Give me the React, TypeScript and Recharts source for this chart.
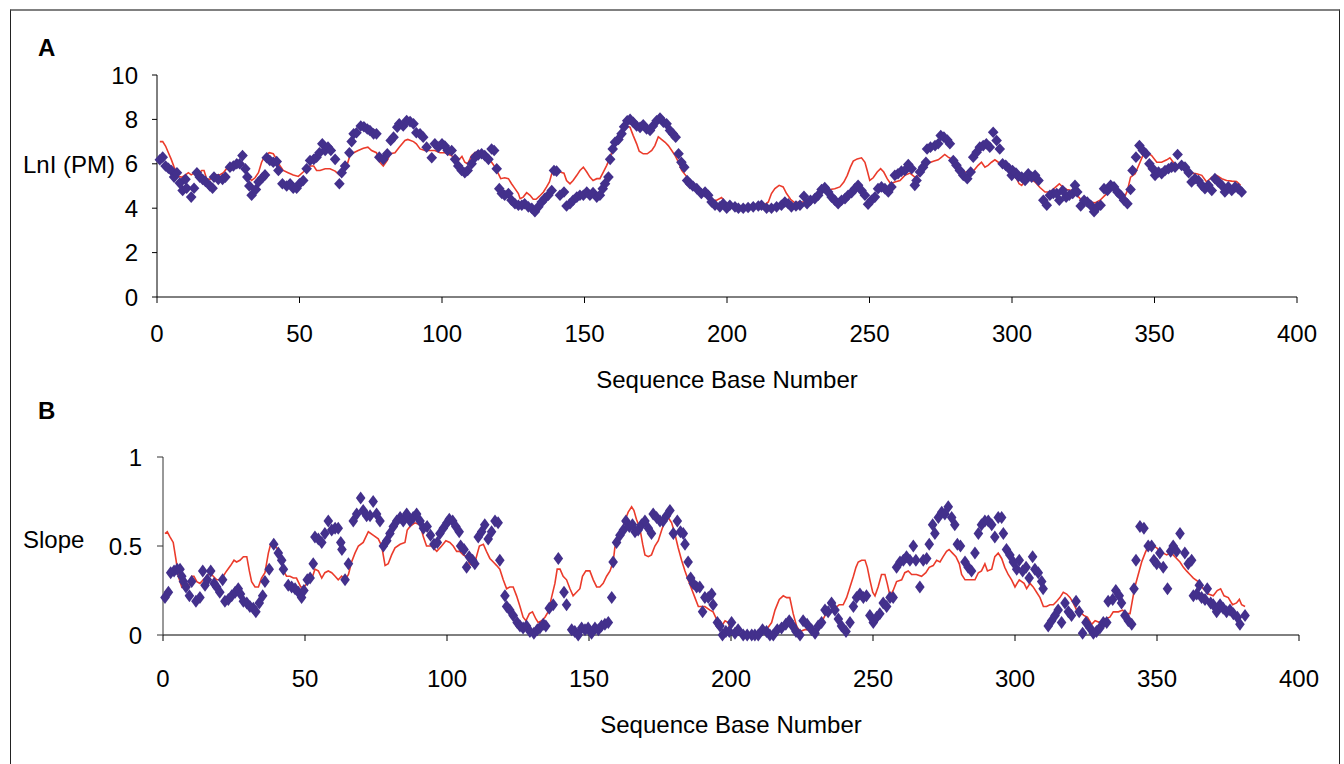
import { ComposedChart, Label, Line, Scatter, XAxis, YAxis } from "recharts";

const X_TICKS = [0, 50, 100, 150, 200, 250, 300, 350, 400];
const LNI_TICKS = [0, 2, 4, 6, 8, 10];
const SLOPE_TICKS = [0, 0.5, 1];

// [base, LnI] measured probes
const lnIPoints: [number, number][] = [
  [1, 6.18], [2, 6.3], [3, 5.9], [4, 5.8], [5, 5.7], [6, 5.4], [7, 5.6], [8, 5.13], [9, 4.8], [10, 5.3],
  [10.4, 4.9], [12, 4.5], [13, 4.9], [14, 5.6], [15, 5.4], [16, 5.3], [17, 5.2], [18.6, 5.0], [19.5, 4.9], [20, 5.4],
  [21.5, 5.3], [23, 5.3], [24, 5.4], [25.6, 5.85], [26.8, 5.9], [28, 6.0], [29, 6.0], [30, 6.37], [31, 5.78], [31.7, 5.4],
  [32.4, 5.0], [33.2, 4.58], [34.7, 4.84], [35.6, 5.18], [37, 5.37], [37.9, 5.5], [38.5, 6.27], [39.6, 6.15], [40.8, 6.07], [42, 6.1],
  [42.6, 5.7], [44, 5.1], [45.5, 5.0], [46.7, 5.1], [47.8, 4.9], [49, 4.9], [50, 5.1], [51.3, 5.25], [52.5, 5.78], [53.7, 6.15],
  [55, 6.2], [56, 6.3], [57, 6.5], [58, 6.9], [59, 6.6], [60, 6.75], [61, 6.6], [62.5, 6.2], [64, 5.1], [64.8, 5.6],
  [66, 5.9], [67.5, 6.5], [68.3, 7.0], [69, 7.35], [70, 7.4], [71.5, 7.7], [72.6, 7.67], [73.8, 7.57], [74.7, 7.5], [76, 7.35],
  [77, 7.35], [78, 6.3], [79.4, 6.2], [80.8, 6.45], [82, 7.05], [83, 7.2], [84.3, 7.65], [85, 7.8], [86.4, 7.7], [87.6, 7.95],
  [88.8, 7.9], [90, 7.8], [91, 7.4], [92.3, 7.35], [93.4, 7.2], [94.6, 6.75], [96.4, 6.27], [97.5, 6.9], [98.7, 6.75], [100, 6.9],
  [101, 6.8], [102, 6.6], [103.4, 6.6], [104.6, 6.2], [105.7, 5.9], [106.9, 5.7], [108, 5.6], [109, 5.7], [110.4, 6.0], [111.6, 6.3],
  [112.7, 6.4], [113.9, 6.45], [115, 6.37], [116.3, 6.2], [117.4, 6.67], [118.3, 6.6], [119.2, 5.78], [120.1, 4.88], [121, 4.66], [122, 4.58],
  [123.3, 4.66], [124.4, 4.36], [125.6, 4.2], [126.8, 4.13], [128, 4.13], [129, 4.2], [130.3, 4.06], [131.5, 4.0], [132.6, 3.84], [133.8, 4.06],
  [135, 4.28], [136, 4.43], [137.3, 4.58], [138.5, 4.8], [139.3, 5.7], [140.2, 5.67], [141.4, 4.58], [142.8, 4.73], [143.7, 4.1], [144.9, 4.2],
  [146, 4.36], [147.3, 4.5], [148.4, 4.58], [149.6, 4.58], [150.8, 4.73], [151.9, 4.58], [153, 4.7], [154.3, 4.5], [155.4, 4.58], [156.4, 4.88],
  [157.2, 5.1], [158.4, 5.4], [159, 6.2], [159.9, 6.67], [160.7, 6.97], [161.9, 7.1], [163, 7.35], [163.9, 7.67], [165, 7.94], [166, 8.0],
  [167.1, 7.87], [168.3, 7.7], [169.5, 7.64], [170.6, 7.76], [171.8, 7.57], [173, 7.5], [174, 7.7], [175.3, 7.94], [176.5, 8.06], [177.7, 7.87],
  [178.8, 7.8], [180, 7.5], [181, 7.35], [182, 7.2], [183, 6.45], [184, 6.07], [185, 5.85], [186, 5.25], [187, 5.1], [188, 5.0],
  [189.4, 4.88], [191, 4.66], [192.3, 4.73], [193.4, 4.58], [194.6, 4.28], [195.8, 4.13], [197.5, 4.06], [198.7, 4.2], [199.9, 4.0], [201, 4.13],
  [202.8, 4.06], [204, 4.0], [205.7, 4.0], [207.4, 4.03], [209.2, 4.06], [211, 4.1], [212.1, 4.13], [213.9, 4.0], [215.6, 4.0], [217.4, 4.06],
  [219.1, 4.13], [220.3, 4.28], [221.5, 4.2], [222.6, 4.06], [224.2, 4.1], [225.6, 4.13], [227, 4.54], [228.1, 4.2], [229.3, 4.36], [230.8, 4.43],
  [232, 4.58], [233.2, 4.84], [234.3, 4.93], [235.5, 4.73], [236.7, 4.5], [237.8, 4.36], [239, 4.2], [240.2, 4.36], [241.4, 4.43], [242.5, 4.58],
  [243.7, 4.7], [244.9, 4.88], [246, 5.03], [247.2, 4.8], [248.4, 4.58], [249.5, 4.18], [250.7, 4.36], [251.9, 4.5], [253, 4.88], [254.2, 4.96],
  [255.4, 4.88], [256.6, 4.73], [257.7, 4.96], [258.9, 5.48], [260, 5.55], [261.2, 5.67], [262.4, 5.7], [263.6, 5.97], [264.8, 5.78], [265.9, 5.03],
  [266.5, 5.25], [267.7, 5.63], [268.8, 5.85], [269.8, 6.07], [270.2, 6.67], [271.4, 6.75], [273, 6.82], [274.1, 6.9], [275, 7.27], [276.1, 7.2],
  [277.3, 7.07], [278.2, 6.9], [279.4, 6.15], [280.5, 5.93], [281.7, 5.7], [282.9, 5.48], [284.3, 5.33], [285.5, 5.63], [286.4, 6.3], [287.6, 6.52],
  [288.7, 6.75], [289.9, 6.82], [291, 6.9], [292.2, 6.75], [293.4, 7.42], [294.6, 7.05], [295.7, 6.67], [296.7, 6.0], [297.8, 5.93], [299, 5.78],
  [299.9, 5.48], [300.2, 5.7], [301.4, 5.58], [302.3, 5.43], [303.4, 5.4], [304.6, 5.25], [305.7, 5.55], [306.9, 5.4], [308.1, 5.48], [309.3, 5.25],
  [311, 4.36], [312.2, 4.13], [313.3, 4.58], [314.5, 4.66], [315.7, 4.66], [316.6, 4.36], [317.8, 4.8], [319, 4.5], [320.1, 4.58], [321.3, 4.66],
  [322.1, 5.03], [322.9, 4.73], [324.1, 4.1], [325.3, 4.36], [326.4, 4.28], [327.6, 4.13], [328.8, 3.84], [330, 4.06], [331.1, 4.13], [332.3, 4.88],
  [333.5, 4.8], [334.6, 5.03], [335.8, 4.96], [337, 4.73], [338.1, 4.58], [339.3, 4.36], [340.5, 4.2], [341.6, 4.84], [342.3, 5.7], [343.5, 6.3],
  [344.7, 6.82], [345.9, 6.6], [347, 6.45], [348.2, 6.0], [349.4, 5.78], [350.2, 5.48], [351.4, 5.63], [352.5, 5.55], [353.7, 5.7], [354.9, 5.78],
  [356, 5.85], [357.2, 5.85], [358.1, 6.42], [359.5, 5.93], [360.7, 5.85], [362, 5.6], [363, 5.18], [364.2, 5.33], [365.4, 5.25], [366.6, 5.03],
  [367.7, 4.88], [368.9, 5.03], [370.1, 4.8], [371.2, 5.33], [372.4, 5.18], [373.6, 5.03], [374.7, 4.73], [375.9, 4.96], [377.1, 4.8], [378.3, 4.96],
  [379.4, 4.88], [380.6, 4.73],
];

// [base, LnI] sliding-window fit
const lnIFit: [number, number][] = [
  [1, 7.0], [2, 7.0], [3, 6.8], [4, 6.5], [5, 6.2], [6, 5.85], [7.5, 5.43], [8.7, 5.4], [10, 5.5], [11, 5.6],
  [12, 5.5], [13.3, 5.6], [14.5, 5.55], [15.7, 5.7], [16.5, 5.7], [17.4, 5.33], [18.6, 5.3], [19.8, 5.5], [21, 5.5], [22, 5.5],
  [23.3, 5.6], [24.4, 5.78], [25.6, 5.9], [27.4, 6.0], [28.5, 6.0], [29.7, 6.07], [31, 5.78], [32, 5.4], [33.2, 5.25], [34.4, 5.37],
  [35.6, 5.6], [36.7, 6.07], [37.9, 6.37], [39.4, 6.5], [40.8, 6.45], [42, 6.2], [43.2, 5.9], [44.3, 5.7], [46, 5.6], [47.8, 5.5],
  [49.6, 5.43], [51.3, 5.63], [52.5, 5.78], [53.7, 5.9], [55, 5.9], [56, 5.7], [57.2, 5.7], [59, 5.78], [60.7, 5.78], [62.5, 5.67],
  [64, 5.5], [65.4, 5.7], [66.8, 6.0], [67.7, 6.37], [69, 6.5], [70.6, 6.6], [72.4, 6.7], [74, 6.75], [75.3, 6.6], [77, 6.5],
  [78.2, 6.07], [79.4, 5.9], [80.8, 6.15], [81.8, 6.45], [83.5, 6.5], [85, 6.75], [87, 7.05], [88, 7.1], [90, 7.0], [91, 6.9],
  [92.3, 6.67], [94, 6.6], [95.8, 6.6], [97.5, 6.6], [99.3, 6.5], [101, 6.5], [102.8, 6.4], [104.6, 6.27], [105.7, 6.15], [107, 6.33],
  [108, 6.07], [109, 6.0], [110.4, 6.37], [111.6, 6.5], [112.7, 6.57], [113.9, 6.5], [115, 6.45], [116.3, 6.3], [117.4, 6.07], [118.6, 5.85],
  [119.8, 5.55], [120.6, 5.33], [122, 5.37], [123.3, 5.33], [124.4, 5.1], [125.6, 4.88], [126.8, 4.66], [127.4, 4.43], [128.5, 4.5], [129.7, 4.7],
  [130.9, 4.58], [132, 4.4], [133, 4.4], [134.2, 4.54], [135.6, 4.73], [136.7, 4.96], [137.7, 5.18], [138.5, 5.55], [139.6, 5.73], [141.4, 5.63],
  [142.8, 5.58], [143.7, 5.25], [144.9, 5.1], [146, 5.25], [147.3, 5.48], [148.4, 5.7], [149.6, 5.85], [150.8, 5.63], [151.9, 5.4], [153, 5.25],
  [154.3, 5.33], [155.4, 5.33], [156.6, 5.63], [157.8, 5.93], [159, 6.3], [160, 6.67], [161.3, 6.97], [162.5, 7.2], [163.9, 7.5], [165, 7.7],
  [166, 7.64], [167.1, 7.27], [168.3, 6.9], [169.2, 6.57], [170.6, 6.45], [172, 6.45], [173.6, 6.6], [174.7, 6.82], [175.9, 7.22], [177, 7.1],
  [178.3, 6.97], [179.4, 6.82], [180.6, 6.6], [181.8, 6.37], [183, 6.07], [184.1, 5.7], [186, 5.4], [187.6, 5.1], [189.4, 4.88], [191, 4.73],
  [192.9, 4.58], [194.6, 4.36], [196.4, 4.36], [198.1, 4.48], [199.3, 4.28], [201, 4.13], [202.8, 4.1], [204, 4.06], [205.7, 4.1], [208, 4.1],
  [210.4, 4.1], [212.7, 4.1], [214.5, 4.28], [215.6, 4.66], [216.8, 4.88], [218.3, 5.03], [219.7, 4.96], [220.9, 4.66], [222.3, 4.4], [223.8, 4.24],
  [225.6, 4.28], [227.3, 4.28], [229.1, 4.36], [230.8, 4.5], [232.6, 4.66], [234.3, 4.8], [236.1, 4.84], [237.8, 4.88], [239.6, 4.96], [241, 5.18],
  [242.2, 5.48], [243.3, 5.85], [244.3, 6.12], [245.7, 6.22], [247.2, 6.27], [248.4, 6.07], [249.2, 5.7], [250.1, 5.25], [251.3, 5.37], [252.7, 5.63],
  [253.9, 5.78], [255, 5.63], [256.2, 5.33], [257.4, 5.1], [258.9, 5.18], [260.7, 5.25], [262.4, 5.48], [264.2, 5.58], [265.9, 5.4], [267.4, 5.48],
  [269, 5.78], [270.6, 6.03], [272.4, 6.12], [274.1, 6.18], [275.3, 6.3], [276.4, 6.42], [277.6, 6.3], [278.8, 6.22], [280, 6.07], [281.1, 5.85],
  [282.6, 5.63], [284, 5.63], [285.2, 5.63], [286.6, 5.7], [288.1, 5.93], [289.3, 6.07], [290.5, 5.85], [291.6, 5.93], [292.8, 6.07], [294, 6.18],
  [295.2, 6.07], [296.7, 5.93], [298.3, 5.7], [300.2, 5.48], [301.6, 5.33], [302.5, 5.1], [303.4, 5.03], [304.6, 5.25], [306.3, 5.33], [308.1, 5.18],
  [309.8, 4.93], [311.6, 4.73], [313.3, 4.73], [315.1, 4.93], [316.6, 5.1], [318, 4.93], [319.2, 4.84], [320.9, 4.8], [322.5, 4.63], [323.9, 4.43],
  [325.6, 4.33], [327.4, 4.28], [329.1, 4.24], [330.9, 4.36], [332.6, 4.58], [334.4, 4.78], [336.1, 4.88], [337.9, 4.7], [339.3, 4.43], [340.5, 4.8],
  [341.6, 5.4], [343.2, 5.55], [344.7, 6.0], [345.9, 6.37], [347.3, 6.52], [349, 6.37], [350.8, 6.07], [352.5, 6.07], [354.3, 6.18], [355.4, 6.27],
  [356.6, 6.07], [357.8, 5.93], [359.5, 5.85], [361.3, 5.7], [363, 5.58], [364.8, 5.55], [366.6, 5.48], [368.3, 5.18], [370.1, 5.4], [371.8, 5.48],
  [373.6, 5.33], [375.3, 5.25], [377.1, 5.22], [378.8, 5.2], [380.2, 5.03],
];

// [base, slope] measured probes
const slopePoints: [number, number][] = [
  [0.7, 0.21], [1.9, 0.24], [2.7, 0.35], [3.9, 0.36], [5, 0.37], [6, 0.37], [6.6, 0.33], [7.2, 0.3], [8.1, 0.27], [9.3, 0.22],
  [10.1, 0.3], [11.6, 0.19], [13, 0.21], [14, 0.36], [14.8, 0.28], [15.6, 0.31], [16.8, 0.36], [18, 0.29], [18.9, 0.27], [20, 0.24],
  [21, 0.31], [21.8, 0.19], [23, 0.2], [24.2, 0.22], [25.4, 0.24], [26.5, 0.26], [27.3, 0.23], [28.3, 0.19], [29.5, 0.18], [30.6, 0.16],
  [31.8, 0.15], [32.7, 0.13], [33.9, 0.18], [35.1, 0.22], [35.9, 0.3], [37.4, 0.37], [39, 0.51], [40.6, 0.46], [41.8, 0.42], [42.4, 0.37],
  [44.1, 0.28], [45.3, 0.27], [46.5, 0.26], [47.7, 0.24], [48.8, 0.21], [49.6, 0.25], [50.8, 0.31], [51.8, 0.32], [52.9, 0.4], [53.5, 0.55],
  [54.7, 0.54], [55.9, 0.52], [57, 0.57], [58.2, 0.64], [59.4, 0.59], [60.6, 0.6], [61.7, 0.6], [62.6, 0.52], [63, 0.48], [64.1, 0.31],
  [65.3, 0.4], [67, 0.64], [68.2, 0.68], [69.6, 0.77], [70.5, 0.7], [71.7, 0.67], [72.9, 0.67], [74, 0.75], [75.2, 0.68], [76.4, 0.64],
  [77.6, 0.5], [78.8, 0.53], [79.9, 0.57], [81.1, 0.61], [82.3, 0.64], [83.5, 0.66], [84.6, 0.64], [85.8, 0.68], [87, 0.64], [88.1, 0.66],
  [89.3, 0.68], [90.5, 0.64], [91.7, 0.6], [93, 0.61], [94.2, 0.56], [95.4, 0.51], [96.6, 0.52], [97.5, 0.57], [98.7, 0.6], [100, 0.63],
  [100.8, 0.65], [102, 0.64], [103.1, 0.61], [104.3, 0.58], [104.8, 0.5], [106, 0.48], [106.9, 0.38], [107.8, 0.44], [109, 0.42], [109.8, 0.4],
  [111, 0.55], [112.2, 0.58], [113.3, 0.62], [114.5, 0.54], [115.7, 0.58], [116.9, 0.64], [118, 0.63], [118.6, 0.42], [120.4, 0.22], [121, 0.16],
  [122.1, 0.14], [123.3, 0.11], [124.7, 0.07], [125.7, 0.05], [126.8, 0.04], [128, 0.05], [129.2, 0.02], [130.6, 0.01], [131.8, 0.03], [132.7, 0.04],
  [133.9, 0.06], [134.8, 0.05], [136, 0.15], [137.4, 0.17], [139.2, 0.43], [141.2, 0.24], [142.1, 0.17], [143.9, 0.03], [145, 0.02], [146.2, 0],
  [147.4, 0.04], [148.6, 0.03], [149.7, 0.04], [150.9, 0.01], [152.1, 0.04], [153.3, 0.03], [154.4, 0.05], [155.6, 0.06], [156.8, 0.07], [158, 0.21],
  [158.5, 0.41], [159.7, 0.52], [160.9, 0.56], [162.1, 0.59], [163, 0.64], [164.2, 0.61], [165.3, 0.62], [166.2, 0.58], [167.3, 0.59], [168.5, 0.62],
  [169.7, 0.64], [170.9, 0.6], [172, 0.57], [172.6, 0.68], [173.8, 0.66], [175, 0.64], [176.1, 0.64], [177.3, 0.67], [178.5, 0.7], [179.7, 0.57],
  [181.1, 0.64], [182.2, 0.58], [183.2, 0.57], [183.8, 0.51], [184.9, 0.41], [185.8, 0.32], [186.7, 0.29], [187.9, 0.27], [189, 0.27], [190, 0.13],
  [190.8, 0.21], [192, 0.21], [193.2, 0.23], [193.7, 0.17], [195.2, 0.07], [196.1, 0.05], [197, 0], [198.2, 0.02], [199.4, 0.02], [200.2, 0.07],
  [201.4, 0.01], [202.5, 0.03], [204.3, 0], [205.7, 0], [207.3, 0], [208.4, 0], [209.6, 0], [211.1, 0.03], [212.5, 0.02], [213.7, 0],
  [214.9, 0], [216.3, 0.03], [217.8, 0.04], [219.3, 0.06], [220.5, 0.08], [221.7, 0.05], [222.9, 0.02], [224.3, 0], [225.4, 0.08], [226.8, 0.06],
  [228.4, 0.03], [229.6, 0.01], [230.7, 0.05], [231.9, 0.07], [233.1, 0.14], [234.2, 0.13], [235.4, 0.18], [236.6, 0.14], [237.8, 0.09], [238.9, 0.05],
  [240.5, 0.02], [241.9, 0.07], [243.1, 0.16], [244.2, 0.21], [245.4, 0.23], [246.6, 0.21], [247.7, 0.22], [248.9, 0.11], [250.1, 0.07], [251.3, 0.1],
  [252.4, 0.12], [253.6, 0.18], [254.8, 0.16], [256, 0.21], [257.1, 0.21], [258.3, 0.38], [259.5, 0.41], [260.7, 0.42], [261.8, 0.44], [263, 0.42],
  [264.2, 0.5], [265.1, 0.42], [266.5, 0.27], [267.7, 0.42], [268.9, 0.43], [269.8, 0.51], [271, 0.62], [271.8, 0.57], [273, 0.66], [274.2, 0.69],
  [275.3, 0.68], [276.5, 0.72], [277.7, 0.66], [278.8, 0.62], [279.7, 0.51], [280.8, 0.5], [282.4, 0.41], [283.5, 0.38], [284.7, 0.36], [285.9, 0.46],
  [287.1, 0.57], [288.2, 0.62], [289.4, 0.64], [290.6, 0.64], [291.8, 0.62], [292.9, 0.55], [294.1, 0.66], [295.3, 0.66], [295.9, 0.57], [297, 0.48],
  [298.2, 0.45], [299.4, 0.41], [300.6, 0.37], [301.5, 0.42], [302.7, 0.36], [303.9, 0.38], [305, 0.32], [306.2, 0.44], [307, 0.37], [308.2, 0.35],
  [309.4, 0.3], [309.9, 0.26], [311.7, 0.05], [312.9, 0.08], [314.1, 0.11], [315.2, 0.14], [316.4, 0.07], [317.6, 0.18], [318.8, 0.13], [319.9, 0.11],
  [321.5, 0.19], [322.6, 0.13], [323.8, 0.01], [325, 0.07], [326.4, 0.04], [327.6, 0.01], [328.7, 0.02], [329.9, 0.04], [331.1, 0.07], [332.3, 0.07],
  [332.8, 0.19], [334.4, 0.2], [335.5, 0.25], [336.7, 0.22], [337.5, 0.18], [338.7, 0.11], [339.9, 0.08], [341.1, 0.06], [341.9, 0.26], [342.6, 0.42],
  [344, 0.61], [345.4, 0.6], [346.9, 0.5], [348.1, 0.5], [348.9, 0.42], [349.9, 0.4], [351, 0.46], [352.2, 0.38], [353.7, 0.26], [354.8, 0.47],
  [355.7, 0.5], [356.9, 0.47], [358.1, 0.57], [359.8, 0.46], [361, 0.4], [362.2, 0.42], [362.8, 0.22], [364, 0.23], [364.9, 0.28], [365.7, 0.21],
  [366.9, 0.2], [367.7, 0.26], [368.9, 0.18], [369.8, 0.17], [371, 0.13], [372.2, 0.17], [373.3, 0.15], [374.5, 0.13], [375.7, 0.14], [376.9, 0.12],
  [378.3, 0.1], [379.2, 0.06], [381, 0.11],
];

// [base, slope] sliding-window fit
const slopeFit: [number, number][] = [
  [0.7, 0.57], [1.5, 0.58], [2.5, 0.55], [3.6, 0.52], [4.6, 0.42], [5.4, 0.33], [6.6, 0.27], [7.7, 0.29], [8.9, 0.27], [10.1, 0.33],
  [10.9, 0.33], [11.9, 0.3], [13, 0.29], [14.2, 0.31], [15.4, 0.33], [16.5, 0.35], [17.7, 0.33], [18.9, 0.31], [20, 0.31], [21.2, 0.33],
  [22.4, 0.36], [23.8, 0.39], [25, 0.42], [25.9, 0.41], [27.1, 0.42], [28.3, 0.44], [29.5, 0.44], [30.4, 0.36], [31.2, 0.3], [32.4, 0.27],
  [33.6, 0.27], [34.7, 0.32], [35.9, 0.35], [37.1, 0.46], [37.9, 0.51], [39.4, 0.5], [40.6, 0.48], [41.4, 0.47], [42.4, 0.36], [43.5, 0.33],
  [44.7, 0.33], [45.9, 0.32], [47, 0.32], [48.5, 0.27], [49.6, 0.27], [50.8, 0.29], [52.3, 0.31], [53.5, 0.37], [54.7, 0.36], [55.9, 0.32],
  [57, 0.35], [58.2, 0.36], [59.4, 0.35], [60.6, 0.33], [61.7, 0.31], [62.9, 0.33], [64.1, 0.31], [65.3, 0.34], [66.4, 0.41], [67.6, 0.46],
  [68.8, 0.5], [70.5, 0.52], [72.3, 0.58], [74.1, 0.56], [75.8, 0.54], [77, 0.5], [78.2, 0.39], [79.3, 0.4], [80.5, 0.45], [81.7, 0.49],
  [83.5, 0.51], [85.2, 0.52], [86, 0.59], [87, 0.61], [88.7, 0.63], [90.5, 0.62], [91.7, 0.55], [92.8, 0.5], [94.6, 0.5], [96.4, 0.47],
  [98.1, 0.5], [99.6, 0.53], [101, 0.52], [102.2, 0.5], [103.4, 0.47], [104.5, 0.47], [105.7, 0.45], [106.9, 0.44], [108, 0.4], [109.2, 0.39],
  [110.2, 0.43], [111.4, 0.5], [112.8, 0.51], [113.9, 0.47], [115.1, 0.43], [116.3, 0.41], [117.5, 0.39], [118.6, 0.37], [119.8, 0.31], [121, 0.26],
  [122.1, 0.27], [123.3, 0.27], [124.5, 0.22], [125.7, 0.16], [126.8, 0.1], [127.8, 0.08], [129, 0.12], [130.1, 0.13], [131.3, 0.09], [132.1, 0.07],
  [133.3, 0.08], [134.5, 0.1], [135.6, 0.13], [136.8, 0.21], [138, 0.29], [138.8, 0.37], [139.8, 0.37], [140.9, 0.33], [142.1, 0.31], [143.3, 0.26],
  [144.4, 0.22], [145.6, 0.24], [146.8, 0.26], [147.7, 0.33], [148.9, 0.36], [150.3, 0.36], [151.5, 0.31], [152.7, 0.27], [153.8, 0.27], [155, 0.29],
  [156.2, 0.33], [157.4, 0.36], [158.5, 0.41], [159.1, 0.49], [160.3, 0.55], [161.5, 0.58], [162.6, 0.64], [163.8, 0.69], [165, 0.72], [165.8, 0.7],
  [166.7, 0.65], [167.9, 0.6], [168.9, 0.51], [169.7, 0.45], [170.9, 0.44], [172, 0.45], [173.2, 0.5], [174.4, 0.53], [175.6, 0.59], [176.7, 0.64],
  [177.9, 0.66], [179.1, 0.63], [180.2, 0.57], [181.4, 0.49], [182.6, 0.42], [183.8, 0.36], [184.9, 0.31], [186.1, 0.26], [187.3, 0.21], [188.5, 0.16],
  [189.6, 0.16], [190.8, 0.16], [192.6, 0.14], [193.7, 0.13], [194.9, 0.09], [196.7, 0.05], [197.9, 0.08], [199, 0.07], [200.2, 0.01], [201.4, 0],
  [202.9, 0], [205.5, 0.01], [207.8, 0.01], [210.2, 0.02], [212.5, 0.03], [214.3, 0.07], [215.5, 0.14], [217, 0.2], [218.4, 0.22], [219.6, 0.21],
  [220.7, 0.21], [221.9, 0.12], [223.1, 0.05], [224.3, 0.02], [226, 0.03], [227.8, 0.03], [229.6, 0.02], [231.3, 0.05], [233.1, 0.11], [234.8, 0.14],
  [236.6, 0.15], [238.1, 0.17], [239.5, 0.17], [240.7, 0.21], [241.9, 0.27], [243.1, 0.33], [244, 0.38], [244.8, 0.41], [246, 0.42], [247.2, 0.42],
  [248, 0.38], [248.9, 0.31], [249.9, 0.24], [250.7, 0.22], [251.8, 0.27], [253, 0.34], [254.2, 0.34], [255, 0.29], [256, 0.22], [257.1, 0.25],
  [258.3, 0.3], [260.1, 0.31], [261.2, 0.35], [262.4, 0.36], [263.6, 0.34], [265.3, 0.34], [267.1, 0.33], [268.6, 0.35], [269.8, 0.38], [271.2, 0.39],
  [272.4, 0.42], [273.6, 0.41], [274.7, 0.44], [275.9, 0.47], [276.8, 0.48], [278, 0.46], [279.2, 0.44], [280.4, 0.4], [281.2, 0.34], [282.4, 0.31],
  [284.1, 0.31], [285.9, 0.31], [287.1, 0.35], [288.2, 0.36], [289.4, 0.4], [290.3, 0.36], [291.8, 0.37], [292.9, 0.44], [294.1, 0.46], [295.3, 0.43],
  [296.4, 0.38], [297.6, 0.34], [298.8, 0.31], [300, 0.27], [301.5, 0.31], [303.2, 0.29], [304.1, 0.26], [305.3, 0.29], [306.4, 0.27], [307.6, 0.24],
  [308.8, 0.21], [310, 0.16], [311.1, 0.16], [312.3, 0.17], [313.5, 0.17], [314.7, 0.19], [315.8, 0.21], [317, 0.24], [318.2, 0.23], [319.4, 0.21],
  [320.5, 0.18], [321.7, 0.14], [322.9, 0.13], [324.2, 0.11], [325.5, 0.1], [327, 0.06], [328.2, 0.08], [329.9, 0.07], [331.7, 0.09], [333.4, 0.1],
  [334.6, 0.13], [336.4, 0.13], [337.9, 0.14], [339.1, 0.12], [340.5, 0.12], [341.4, 0.2], [342.2, 0.27], [343.4, 0.34], [344.6, 0.41], [345.8, 0.46],
  [346.9, 0.5], [348.7, 0.5], [349.9, 0.49], [351, 0.47], [352.2, 0.46], [353.4, 0.45], [354.6, 0.46], [355.7, 0.45], [356.9, 0.43], [358.1, 0.41],
  [359.3, 0.38], [360.4, 0.36], [361.6, 0.34], [362.8, 0.32], [364.5, 0.3], [366.3, 0.26], [368.1, 0.23], [369.8, 0.22], [371.2, 0.25], [372.4, 0.26],
  [373.6, 0.22], [375.1, 0.21], [376.6, 0.17], [378, 0.18], [379, 0.2], [379.8, 0.17], [381, 0.16],
];

const FONT = "'Liberation Sans', Arial, Helvetica, sans-serif";
const PURPLE = "#43308C";
const RED = "#EB3B2B";
const AXIS = "#000";
const FS = 24;

const toRows = (pairs: [number, number][]) => pairs.map(([base, value]) => ({ base, value }));

function Diamond({ cx, cy, w, h }: { cx?: number; cy?: number; w: number; h: number }) {
  if (cx === undefined || cy === undefined) return null;
  return <polygon points={`${cx},${cy - h} ${cx + w},${cy} ${cx},${cy + h} ${cx - w},${cy}`} fill={PURPLE} />;
}

const tickStyle = { fontSize: FS, fill: "#000", fontFamily: FONT };

export default function App() {
  return (
    <div style={{ position: "absolute", left: 0, top: 0, width: 1344, height: 764, background: "#fff", overflow: "hidden" }}>
      <div
        style={{
          position: "absolute",
          left: 10,
          top: 9,
          width: 1328,
          height: 770,
          borderTop: "2px solid #808080",
          borderLeft: "1px solid #222",
          borderRight: "1px solid #222",
        }}
      />

      {/* panel A */}
      <div style={{ position: "absolute", left: 0, top: 0 }}>
        <ComposedChart width={1344} height={400} margin={{ top: 75, right: 47, bottom: 8, left: 97 }}>
          <XAxis
            type="number"
            dataKey="base"
            domain={[0, 400]}
            ticks={X_TICKS}
            height={95}
            tickSize={6}
            tickMargin={22}
            tick={tickStyle}
            stroke={AXIS}
            tickLine={{ stroke: AXIS }}
          >
            <Label value="Sequence Base Number" position="insideBottom" offset={4} style={{ fontSize: FS, fill: "#000", fontFamily: FONT }} />
          </XAxis>
          <YAxis
            type="number"
            dataKey="value"
            domain={[0, 10]}
            ticks={LNI_TICKS}
            width={60}
            tickSize={5}
            tickMargin={14}
            tick={tickStyle}
            stroke={AXIS}
            tickLine={{ stroke: AXIS }}
          />
          <Scatter
            data={toRows(lnIPoints)}
            isAnimationActive={false}
            shape={(p: any) => <Diamond cx={p.cx} cy={p.cy} w={5.3} h={5.8} />}
          />
          <Line
            data={toRows(lnIFit)}
            dataKey="value"
            type="linear"
            stroke={RED}
            strokeWidth={1.6}
            dot={false}
            activeDot={false}
            isAnimationActive={false}
          />
        </ComposedChart>
      </div>

      {/* panel B */}
      <div style={{ position: "absolute", left: 0, top: 400 }}>
        <ComposedChart width={1344} height={364} margin={{ top: 57, right: 45, bottom: 29, left: 103 }}>
          <XAxis
            type="number"
            dataKey="base"
            domain={[0, 400]}
            ticks={X_TICKS}
            height={100}
            tickSize={6}
            tickMargin={29}
            tick={tickStyle}
            stroke={AXIS}
            tickLine={{ stroke: AXIS }}
          >
            <Label value="Sequence Base Number" position="insideBottom" offset={2} style={{ fontSize: FS, fill: "#000", fontFamily: FONT }} />
          </XAxis>
          <YAxis
            type="number"
            dataKey="value"
            domain={[0, 1]}
            ticks={SLOPE_TICKS}
            width={60}
            tickSize={6}
            tickMargin={15}
            tick={tickStyle}
            stroke="#333"
            tickLine={{ stroke: "#333" }}
          />
          <Scatter
            data={toRows(slopePoints)}
            isAnimationActive={false}
            shape={(p: any) => <Diamond cx={p.cx} cy={p.cy} w={4.8} h={6.5} />}
          />
          <Line
            data={toRows(slopeFit)}
            dataKey="value"
            type="linear"
            stroke={RED}
            strokeWidth={1.6}
            dot={false}
            activeDot={false}
            isAnimationActive={false}
          />
        </ComposedChart>
      </div>

      <svg width={1344} height={764} style={{ position: "absolute", left: 0, top: 0, pointerEvents: "none" }}>
        <text x={38} y={56} fontFamily={FONT} fontSize={FS} fontWeight="bold">A</text>
        <text x={38} y={419} fontFamily={FONT} fontSize={FS} fontWeight="bold">B</text>
        <text x={23} y={173} fontFamily={FONT} fontSize={FS}>LnI (PM)</text>
        <text x={23} y={548} fontFamily={FONT} fontSize={FS}>Slope</text>
      </svg>
    </div>
  );
}
